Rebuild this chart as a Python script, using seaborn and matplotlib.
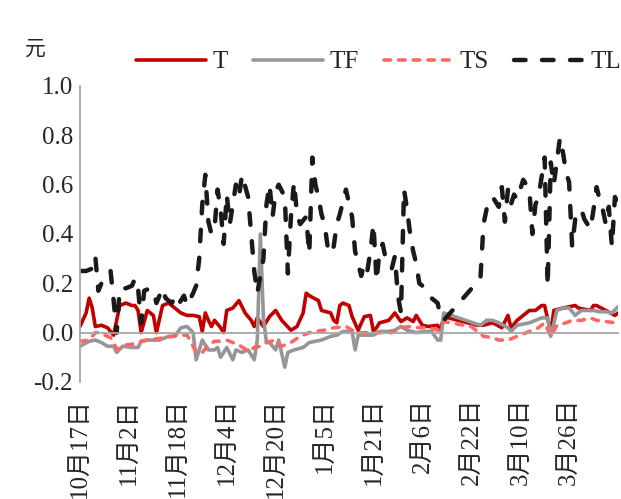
import numpy as np
import pandas as pd
import matplotlib
matplotlib.use("Agg")
import matplotlib.pyplot as plt
import seaborn as sns

# ---------------- data (day offset from 10月17日, value in 元) ----------------
tick_days = [0, 16, 32, 48, 64, 80, 96, 112, 128, 144, 160, 176]
tick_labels = ["10月17日", "11月2日", "11月18日", "12月4日", "12月20日", "1月5日",
               "1月21日", "2月6日", "2月22日", "3月10日", "3月26日", ""]

t_days = [0, 2, 3, 4, 5, 7, 9, 11, 13, 15, 17, 18, 19, 20, 22, 24, 25, 27, 29, 31,
          33, 35, 37, 39, 40, 41, 42, 43, 44, 46, 47, 48, 50, 52, 54, 56, 57, 58, 60, 62,
          64, 66, 69, 71, 73, 74, 75, 78, 79, 82, 83, 84, 85, 86, 88, 89, 91, 93, 95, 96,
          97, 98, 101, 103, 105, 107, 109, 110, 112, 114, 117, 118, 119, 130, 132, 135, 138, 140, 141, 143,
          146, 147, 149, 151, 152, 154, 155, 158, 162, 163, 167, 168, 169, 172, 175, 176]
t_vals = [0.025, 0.08, 0.14, 0.10, 0.025, 0.03, 0.02, -0.01, 0.11, 0.12,
          0.11, 0.11, 0.09, 0.0, 0.09, 0.07, 0.0, 0.11, 0.12, 0.10,
          0.08, 0.07, 0.07, 0.065, 0.005, 0.08, 0.05, 0.025, 0.05, 0.02,
          0.0, 0.09, 0.10, 0.13, 0.08, 0.05, 0.025, 0.06, 0.025, 0.065,
          0.09, 0.05, 0.01, 0.025, 0.08, 0.16, 0.15, 0.13, 0.09, 0.08,
          0.05, 0.04, 0.11, 0.12, 0.11, 0.065, 0.01, 0.065, 0.07, 0.005,
          0.02, 0.04, 0.05, 0.08, 0.045, 0.06, 0.045, 0.07, 0.03, 0.025,
          0.03, 0.01, 0.065, 0.03, 0.03, 0.04, 0.02, 0.07, 0.02, 0.05,
          0.08, 0.09, 0.09, 0.11, 0.11, 0.0, 0.09, 0.10, 0.11, 0.10,
          0.09, 0.11, 0.11, 0.09, 0.07, 0.08]

tf_days = [0, 3, 5, 7, 9, 11, 12, 14, 17, 19, 20, 22, 26, 29, 31, 33, 35, 37, 38, 40,
           42, 44, 45, 46, 48, 50, 51, 53, 55, 57, 58, 59, 60, 61, 62, 64, 65, 67, 68, 70,
           73, 75, 79, 82, 84, 86, 89, 90, 91, 94, 96, 98, 101, 103, 105, 107, 110, 113, 115, 117,
           118, 119, 131, 133, 135, 137, 140, 141, 143, 145, 147, 149, 151, 153, 154, 156, 158, 160, 162, 164,
           166, 168, 170, 172, 174, 176]
tf_vals = [-0.055, -0.035, -0.03, -0.04, -0.055, -0.055, -0.08, -0.055, -0.06, -0.06,
           -0.035, -0.03, -0.03, -0.015, -0.015, 0.02, 0.025, 0.0, -0.11, -0.03,
           -0.07, -0.07, -0.06, -0.10, -0.06, -0.11, -0.07, -0.08, -0.07, -0.11,
           -0.03, 0.40, 0.06, -0.04, -0.04, -0.07, -0.03, -0.14, -0.08, -0.07,
           -0.06, -0.04, -0.03, -0.015, -0.01, 0.005, 0.005, -0.07, -0.01, -0.01,
           -0.01, 0.005, 0.005, 0.01, 0.025, 0.01, 0.0, 0.005, 0.005, -0.03,
           -0.03, 0.08, 0.03, 0.05, 0.05, 0.04, 0.02, 0.005, 0.03, 0.035,
           0.04, 0.05, 0.06, 0.06, -0.015, 0.09, 0.10, 0.10, 0.07, 0.09,
           0.09, 0.09, 0.085, 0.085, 0.08, 0.105]

ts_days = [0, 3, 5, 6, 8, 10, 12, 13, 15, 18, 20, 22, 25, 28, 30, 33, 35, 36, 37, 38,
           40, 42, 44, 46, 48, 50, 52, 55, 57, 59, 61, 64, 66, 69, 72, 75, 77, 80, 83, 87,
           89, 92, 95, 98, 102, 105, 108, 111, 114, 117, 119, 128, 132, 135, 137, 140, 143, 146, 148, 150,
           152, 154, 156, 159, 161, 164, 167, 169, 172, 175]
ts_vals = [-0.035, -0.03, 0.0, 0.0, -0.01, -0.02, -0.065, -0.065, -0.05, -0.045,
           -0.035, -0.03, -0.025, -0.02, -0.015, -0.01, -0.01, -0.03, -0.055, -0.08,
           -0.08, -0.05, -0.035, -0.035, -0.03, -0.04, -0.05, -0.075, -0.06, -0.055,
           -0.04, -0.03, -0.055, -0.04, -0.015, 0.0, 0.005, 0.01, 0.02, 0.025,
           0.01, 0.0, 0.0, 0.0, 0.0, 0.02, 0.025, 0.02, 0.02, 0.01,
           0.045, 0.025, -0.015, -0.02, -0.03, -0.03, -0.015, 0.0, 0.01, 0.02,
           0.04, -0.015, 0.03, 0.04, 0.05, 0.05, 0.06, 0.05, 0.045, 0.04]

tl_days = [0, 2, 4, 5, 6, 8, 10, 11, 12, 13, 15, 17, 18, 19, 20, 21, 23, 24, 25, 27,
           28, 30, 31, 32, 34, 35, 37, 38, 39, 40, 41, 42, 43, 44, 45, 46, 47, 48, 49, 51,
           52, 53, 55, 56, 57, 58, 59, 60, 61, 62, 63, 64, 65, 67, 68, 69, 70, 71, 72, 74,
           75, 76, 77, 78, 79, 80, 81, 82, 83, 84, 85, 86, 87, 89, 90, 91, 92, 93, 94, 95,
           96, 97, 98, 99, 100, 102, 103, 104, 105, 106, 107, 108, 109, 110, 111, 113, 115, 117, 118, 119,
           131, 132, 133, 134, 135, 136, 137, 138, 139, 140, 141, 142, 143, 145, 147, 148, 149, 150, 151, 152,
           153, 154, 155, 157, 158, 159, 160, 161, 162, 163, 164, 165, 166, 167, 168, 169, 170, 171, 172, 173,
           174, 175, 176]
tl_vals = [0.25, 0.25, 0.26, 0.31, 0.17, 0.23, 0.25, 0.13, 0.00, 0.18,
           0.18, 0.19, 0.22, 0.18, 0.04, 0.17, 0.18, 0.17, 0.12, 0.18,
           0.14, 0.12, 0.14, 0.11, 0.15, 0.11, 0.16, 0.19, 0.30, 0.52,
           0.64, 0.45, 0.40, 0.42, 0.58, 0.50, 0.36, 0.56, 0.44, 0.60,
           0.55, 0.64, 0.55, 0.40, 0.25, 0.16, 0.23, 0.30, 0.52, 0.60,
           0.47, 0.57, 0.60, 0.55, 0.24, 0.47, 0.61, 0.48, 0.44, 0.47,
           0.32, 0.71, 0.60, 0.55, 0.48, 0.44, 0.35, 0.32, 0.35, 0.44,
           0.48, 0.53, 0.58, 0.47, 0.33, 0.28, 0.23, 0.28, 0.25, 0.33,
           0.44, 0.21, 0.33, 0.36, 0.30, 0.26, 0.31, 0.15, 0.08, 0.58,
           0.50, 0.40, 0.33, 0.28, 0.20, 0.18, 0.14, 0.12, 0.06, 0.05,
           0.22, 0.44, 0.50, 0.52, 0.55, 0.53, 0.51, 0.59, 0.45, 0.58,
           0.52, 0.56, 0.54, 0.62, 0.58, 0.40, 0.52, 0.55, 0.63, 0.71,
           0.19, 0.69, 0.60, 0.79, 0.73, 0.65, 0.61, 0.35, 0.46, 0.48,
           0.50, 0.46, 0.44, 0.42, 0.50, 0.59, 0.54, 0.50, 0.44, 0.51,
           0.35, 0.55, 0.52]

y_ticks = [-0.2, 0.0, 0.2, 0.4, 0.6, 0.8, 1.0]

# ---------------- styling ----------------
sns.set_style("white")
plt.rcParams["font.family"] = ["Liberation Serif", "Noto Sans CJK SC"]
plt.rcParams["axes.unicode_minus"] = False

GREY = "#A6A6A6"
FS = 18

fig = plt.figure(figsize=(6.21, 4.99), dpi=100)
ax = fig.add_axes([80 / 621, (499 - 382) / 499, (618 - 80) / 621, (382 - 86) / 499])

series = [
    ("T", t_days, t_vals, "#C00000", "-", 2.6),
    ("TF", tf_days, tf_vals, "#969696", "-", 2.6),
    ("TS", ts_days, ts_vals, "#FF6666", (0, (1.8, 2.25)), 2.6),
    ("TL", tl_days, tl_vals, "#1A1A1A", (0, (2.6, 3.7)), 3.2),
]
for name, d, v, col, ls, lw in series:
    df = pd.DataFrame({"day": d, "value": v})
    sns.lineplot(data=df, x="day", y="value", ax=ax, color=col, lw=lw,
                 linestyle=ls, label=name, estimator=None, sort=False,
                 solid_joinstyle="round", dash_joinstyle="round",
                 dash_capstyle="round", solid_capstyle="round")

ax.set_xlim(0, 176)
ax.set_ylim(-0.2, 1.0)
ax.set_xlabel("")
ax.set_ylabel("")
for s in ("top", "right"):
    ax.spines[s].set_visible(False)
ax.spines["bottom"].set_position(("data", 0))
for s in ("bottom", "left"):
    ax.spines[s].set_color(GREY)
    ax.spines[s].set_linewidth(1.3)

ax.set_xticks(tick_days)
ax.set_xticklabels(tick_labels, rotation=90, fontsize=FS)
ax.set_yticks(y_ticks)
ax.set_yticklabels([f"{v:.1f}" for v in y_ticks], fontsize=FS)
ax.tick_params(axis="x", direction="in", length=5, width=1.2, color=GREY, pad=47)
ax.tick_params(axis="y", direction="in", length=6, width=1.2, color=GREY, pad=5)

fig.text(35 / 621, 1 - 50 / 499, "元", fontsize=15, ha="center", va="center")

handles, labels = ax.get_legend_handles_labels()
ax.get_legend().remove()
fig.legend(handles, labels, loc="center right", bbox_to_anchor=(1.0, 1 - 62 / 499),
           ncol=4, frameon=False, fontsize=FS, handlelength=2.8, handletextpad=0.25,
           columnspacing=1.0, borderaxespad=0, borderpad=0)

fig.savefig("out.png", dpi=100)
